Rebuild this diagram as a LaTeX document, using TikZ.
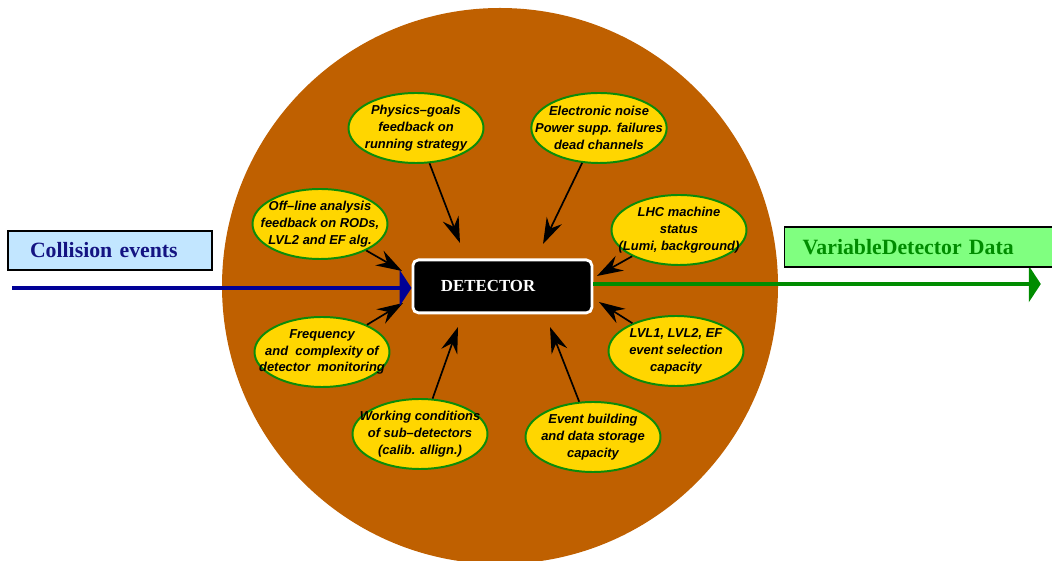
\documentclass[tikz,border=0pt]{standalone}
\usepackage{fontspec}
\newfontfamily\ellfont{Liberation Sans}
\newfontfamily\boxfont{Liberation Serif}
\usetikzlibrary{shapes.geometric,arrows.meta}
\definecolor{circbrown}{RGB}{191,96,0}
\definecolor{ellyellow}{RGB}{255,214,0}
\definecolor{ellgreen}{RGB}{10,140,10}
\definecolor{inblue}{RGB}{0,0,150}
\definecolor{intext}{RGB}{20,20,130}
\definecolor{inbox}{RGB}{194,230,255}
\definecolor{outgreen}{RGB}{0,140,0}
\definecolor{outbox}{RGB}{128,255,128}
\begin{document}
\begin{tikzpicture}[ell/.style={ellipse,draw=ellgreen,line width=1.4pt,fill=ellyellow,minimum width=3.375cm,minimum height=1.75cm,inner xsep=-0.4cm,inner ysep=0pt,align=center,font=\ellfont\bfseries\itshape\fontsize{9.2}{12}\selectfont},
    feed/.style={line width=1.2pt,black,-{Stealth[length=0.65cm,width=0.42cm,inset=0.22cm]}},
    flowbox/.style={draw=black,line width=1pt,minimum height=1cm,align=left,font=\boxfont\bfseries\fontsize{15.5}{17}\selectfont}]
        \useasboundingbox (0,0) rectangle (26.3,14);
        \fill[circbrown] (12.5,6.85) circle (6.95);
        % influences
        \node[ell] (phys) at (10.4,10.8) {Physics\textendash goals\\feedback on\\running strategy};
        \node[ell] (noise) at (14.975,10.8) {Electronic noise\\Power supp. failures\\dead channels};
        \node[ell] (offl) at (8.0,8.4) {Off\textendash line analysis\\feedback on RODs,\\LVL2 and EF alg.};
        \node[ell] (lhc) at (16.975,8.25) {LHC machine\\status\\(Lumi, background)};
        \node[ell] (freq) at (8.05,5.2) {Frequency\\and\ \ complexity of\\detector\ \ monitoring};
        \node[ell] (lvl) at (16.9,5.225) {LVL1, LVL2, EF\\event selection\\capacity};
        \node[ell] (work) at (10.5,3.15) {Working conditions\\of sub\textendash detectors\\(calib. allign.)};
        \node[ell] (evb) at (14.825,3.075) {Event building\\and data storage\\capacity};
        \coordinate (tphys) at (11.5,7.925);
        \coordinate (tnoise) at (13.575,7.9);
        \coordinate (toffl) at (10.05,7.225);
        \coordinate (tlhc) at (14.925,7.1);
        \coordinate (tfreq) at (10.075,6.425);
        \coordinate (tlvl) at (14.975,6.45);
        \coordinate (twork) at (11.45,5.825);
        \coordinate (tevb) at (13.75,5.825);
        \draw[feed] (phys) -- (tphys);
        \draw[feed] (noise) -- (tnoise);
        \draw[feed] (offl) -- (toffl);
        \draw[feed] (lhc) -- (tlhc);
        \draw[feed] (freq) -- (tfreq);
        \draw[feed] (lvl) -- (tlvl);
        \draw[feed] (work) -- (twork);
        \draw[feed] (evb) -- (tevb);
        % detector and data flow
        \node[draw=white,line width=2pt,fill=black,rounded corners=4pt,text width=3.075cm,inner xsep=0.7cm,align=left,minimum height=1.325cm,text=white,font=\boxfont\bfseries\fontsize{12}{14}\selectfont] (det) at (12.56,6.84) {DETECTOR};
        \coordinate (cin) at (0.3,6.8);
        \coordinate (cout) at (26.02,6.9);
        \draw[inblue,line width=3.5pt,-{Triangle[length=0.3cm,width=0.9cm]}] (cin) -- (cin -| det.west);
        \draw[outgreen,line width=3.5pt,-{Triangle[length=0.3cm,width=0.9cm]}] (det.east |- cout) -- (cout);
        \node[flowbox,fill=inbox,text=intext,text width=4cm,inner xsep=0.55cm,minimum height=0.975cm] (coll) at (2.75,7.74) {Collision events};
        \node[flowbox,fill=outbox,text=outgreen,anchor=west,text width=6.5cm,inner xsep=0.45cm] (vdata) at (19.6,7.825) {VariableDetector Data};
\end{tikzpicture}
\end{document}
